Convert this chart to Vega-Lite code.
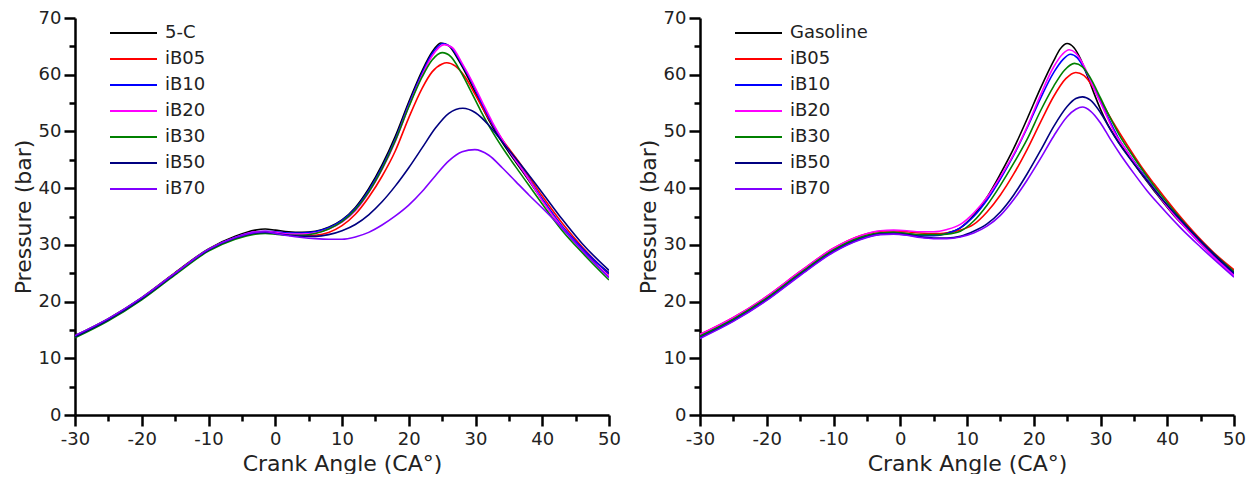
{
  "$schema": "https://vega.github.io/schema/vega-lite/v6.json",
  "padding": {"left": 12, "top": 9, "right": 3, "bottom": 0},
  "spacing": 16,
  "datasets": {
    "left": [
      {"s":"5-C","ca":-30,"p":14.0},{"s":"5-C","ca":-25,"p":17.0},{"s":"5-C","ca":-20,"p":20.7},{"s":"5-C","ca":-15,"p":25.1},{"s":"5-C","ca":-10,"p":29.3},{"s":"5-C","ca":-6,"p":31.5},{"s":"5-C","ca":-3,"p":32.6},{"s":"5-C","ca":-1.5,"p":32.8},{"s":"5-C","ca":0,"p":32.6},{"s":"5-C","ca":2,"p":32.3},{"s":"5-C","ca":4,"p":32.2},{"s":"5-C","ca":6,"p":32.4},{"s":"5-C","ca":8,"p":33.1},{"s":"5-C","ca":10,"p":34.4},{"s":"5-C","ca":12,"p":36.6},{"s":"5-C","ca":14,"p":39.9},{"s":"5-C","ca":16,"p":44.1},{"s":"5-C","ca":18,"p":49.2},{"s":"5-C","ca":20,"p":55.2},{"s":"5-C","ca":22,"p":60.7},{"s":"5-C","ca":23.5,"p":64.0},{"s":"5-C","ca":24.8,"p":65.6},{"s":"5-C","ca":26,"p":65.1},{"s":"5-C","ca":27.5,"p":62.5},{"s":"5-C","ca":29,"p":59.2},{"s":"5-C","ca":30.5,"p":55.5},{"s":"5-C","ca":32,"p":52.0},{"s":"5-C","ca":33.5,"p":49.0},{"s":"5-C","ca":35,"p":46.3},{"s":"5-C","ca":37,"p":43.0},{"s":"5-C","ca":40,"p":37.9},{"s":"5-C","ca":43,"p":33.1},{"s":"5-C","ca":46,"p":29.1},{"s":"5-C","ca":50,"p":25.1},

      {"s":"iB05","ca":-30,"p":13.9},{"s":"iB05","ca":-25,"p":16.9},{"s":"iB05","ca":-20,"p":20.6},{"s":"iB05","ca":-15,"p":25.0},{"s":"iB05","ca":-10,"p":29.1},{"s":"iB05","ca":-6,"p":31.2},{"s":"iB05","ca":-3,"p":32.1},{"s":"iB05","ca":-1.5,"p":32.2},{"s":"iB05","ca":0,"p":32.1},{"s":"iB05","ca":2,"p":31.8},{"s":"iB05","ca":4,"p":31.6},{"s":"iB05","ca":6,"p":31.7},{"s":"iB05","ca":8,"p":32.2},{"s":"iB05","ca":10,"p":33.4},{"s":"iB05","ca":12,"p":35.4},{"s":"iB05","ca":14,"p":38.4},{"s":"iB05","ca":16,"p":42.1},{"s":"iB05","ca":18,"p":46.6},{"s":"iB05","ca":20,"p":52.4},{"s":"iB05","ca":22,"p":57.6},{"s":"iB05","ca":23.5,"p":60.5},{"s":"iB05","ca":25,"p":61.9},{"s":"iB05","ca":25.7,"p":62.1},{"s":"iB05","ca":27,"p":61.5},{"s":"iB05","ca":28.5,"p":59.5},{"s":"iB05","ca":30,"p":56.4},{"s":"iB05","ca":32,"p":52.2},{"s":"iB05","ca":34,"p":48.6},{"s":"iB05","ca":37,"p":43.8},{"s":"iB05","ca":40,"p":38.6},{"s":"iB05","ca":43,"p":33.8},{"s":"iB05","ca":46,"p":29.6},{"s":"iB05","ca":50,"p":24.8},

      {"s":"iB10","ca":-30,"p":13.8},{"s":"iB10","ca":-25,"p":16.8},{"s":"iB10","ca":-20,"p":20.5},{"s":"iB10","ca":-15,"p":24.9},{"s":"iB10","ca":-10,"p":29.1},{"s":"iB10","ca":-6,"p":31.3},{"s":"iB10","ca":-3,"p":32.3},{"s":"iB10","ca":-1.5,"p":32.4},{"s":"iB10","ca":0,"p":32.3},{"s":"iB10","ca":2,"p":32.1},{"s":"iB10","ca":4,"p":32.1},{"s":"iB10","ca":6,"p":32.3},{"s":"iB10","ca":8,"p":33.0},{"s":"iB10","ca":10,"p":34.3},{"s":"iB10","ca":12,"p":36.4},{"s":"iB10","ca":14,"p":39.6},{"s":"iB10","ca":16,"p":43.7},{"s":"iB10","ca":18,"p":48.7},{"s":"iB10","ca":20,"p":54.8},{"s":"iB10","ca":22,"p":60.3},{"s":"iB10","ca":23.5,"p":63.7},{"s":"iB10","ca":25.1,"p":65.5},{"s":"iB10","ca":26.3,"p":64.9},{"s":"iB10","ca":27.8,"p":62.2},{"s":"iB10","ca":29.3,"p":59.0},{"s":"iB10","ca":30.8,"p":55.3},{"s":"iB10","ca":32.3,"p":51.8},{"s":"iB10","ca":33.8,"p":48.8},{"s":"iB10","ca":35.3,"p":46.1},{"s":"iB10","ca":37.3,"p":42.8},{"s":"iB10","ca":40,"p":38.1},{"s":"iB10","ca":43,"p":33.3},{"s":"iB10","ca":46,"p":29.4},{"s":"iB10","ca":50,"p":24.9},

      {"s":"iB20","ca":-30,"p":13.9},{"s":"iB20","ca":-25,"p":16.9},{"s":"iB20","ca":-20,"p":20.6},{"s":"iB20","ca":-15,"p":25.0},{"s":"iB20","ca":-10,"p":29.2},{"s":"iB20","ca":-6,"p":31.3},{"s":"iB20","ca":-3,"p":32.3},{"s":"iB20","ca":-1.5,"p":32.4},{"s":"iB20","ca":0,"p":32.2},{"s":"iB20","ca":2,"p":31.9},{"s":"iB20","ca":4,"p":31.9},{"s":"iB20","ca":6,"p":32.1},{"s":"iB20","ca":8,"p":32.8},{"s":"iB20","ca":10,"p":34.0},{"s":"iB20","ca":12,"p":36.0},{"s":"iB20","ca":14,"p":39.2},{"s":"iB20","ca":16,"p":43.3},{"s":"iB20","ca":18,"p":48.3},{"s":"iB20","ca":20,"p":54.4},{"s":"iB20","ca":22,"p":59.9},{"s":"iB20","ca":23.5,"p":63.3},{"s":"iB20","ca":25.3,"p":65.3},{"s":"iB20","ca":26.5,"p":64.8},{"s":"iB20","ca":28,"p":62.0},{"s":"iB20","ca":29.5,"p":58.8},{"s":"iB20","ca":31,"p":55.2},{"s":"iB20","ca":32.5,"p":51.7},{"s":"iB20","ca":34,"p":48.6},{"s":"iB20","ca":35.5,"p":45.8},{"s":"iB20","ca":37.5,"p":42.4},{"s":"iB20","ca":40,"p":37.8},{"s":"iB20","ca":43,"p":33.0},{"s":"iB20","ca":46,"p":29.0},{"s":"iB20","ca":50,"p":24.4},

      {"s":"iB30","ca":-30,"p":13.6},{"s":"iB30","ca":-25,"p":16.6},{"s":"iB30","ca":-20,"p":20.3},{"s":"iB30","ca":-15,"p":24.7},{"s":"iB30","ca":-10,"p":28.9},{"s":"iB30","ca":-6,"p":31.0},{"s":"iB30","ca":-3,"p":31.9},{"s":"iB30","ca":-1.5,"p":32.0},{"s":"iB30","ca":0,"p":31.9},{"s":"iB30","ca":2,"p":31.7},{"s":"iB30","ca":4,"p":31.7},{"s":"iB30","ca":6,"p":32.0},{"s":"iB30","ca":8,"p":32.8},{"s":"iB30","ca":10,"p":34.1},{"s":"iB30","ca":12,"p":36.2},{"s":"iB30","ca":14,"p":39.3},{"s":"iB30","ca":16,"p":43.4},{"s":"iB30","ca":18,"p":48.4},{"s":"iB30","ca":20,"p":54.3},{"s":"iB30","ca":22,"p":59.6},{"s":"iB30","ca":23.5,"p":62.6},{"s":"iB30","ca":25,"p":63.9},{"s":"iB30","ca":26.3,"p":63.2},{"s":"iB30","ca":27.8,"p":60.5},{"s":"iB30","ca":29.3,"p":57.1},{"s":"iB30","ca":30.8,"p":53.6},{"s":"iB30","ca":32.3,"p":50.4},{"s":"iB30","ca":34,"p":47.2},{"s":"iB30","ca":36,"p":43.8},{"s":"iB30","ca":38,"p":40.5},{"s":"iB30","ca":40,"p":37.2},{"s":"iB30","ca":43,"p":32.5},{"s":"iB30","ca":46,"p":28.6},{"s":"iB30","ca":50,"p":23.8},

      {"s":"iB50","ca":-30,"p":13.8},{"s":"iB50","ca":-25,"p":16.8},{"s":"iB50","ca":-20,"p":20.5},{"s":"iB50","ca":-15,"p":24.9},{"s":"iB50","ca":-10,"p":29.1},{"s":"iB50","ca":-6,"p":31.2},{"s":"iB50","ca":-3,"p":32.1},{"s":"iB50","ca":-1.5,"p":32.2},{"s":"iB50","ca":0,"p":32.0},{"s":"iB50","ca":2,"p":31.7},{"s":"iB50","ca":4,"p":31.5},{"s":"iB50","ca":6,"p":31.5},{"s":"iB50","ca":8,"p":31.8},{"s":"iB50","ca":10,"p":32.5},{"s":"iB50","ca":12,"p":33.6},{"s":"iB50","ca":14,"p":35.3},{"s":"iB50","ca":16,"p":37.6},{"s":"iB50","ca":18,"p":40.4},{"s":"iB50","ca":20,"p":43.6},{"s":"iB50","ca":22,"p":47.1},{"s":"iB50","ca":24,"p":50.6},{"s":"iB50","ca":26,"p":53.2},{"s":"iB50","ca":28.1,"p":54.1},{"s":"iB50","ca":30,"p":53.3},{"s":"iB50","ca":32,"p":51.1},{"s":"iB50","ca":34,"p":48.2},{"s":"iB50","ca":37,"p":43.8},{"s":"iB50","ca":40,"p":39.2},{"s":"iB50","ca":43,"p":34.5},{"s":"iB50","ca":46,"p":30.2},{"s":"iB50","ca":50,"p":25.5},

      {"s":"iB70","ca":-30,"p":14.0},{"s":"iB70","ca":-25,"p":17.0},{"s":"iB70","ca":-20,"p":20.7},{"s":"iB70","ca":-15,"p":25.0},{"s":"iB70","ca":-10,"p":29.2},{"s":"iB70","ca":-6,"p":31.3},{"s":"iB70","ca":-3,"p":32.2},{"s":"iB70","ca":-1.5,"p":32.3},{"s":"iB70","ca":0,"p":32.0},{"s":"iB70","ca":2,"p":31.6},{"s":"iB70","ca":4,"p":31.3},{"s":"iB70","ca":6,"p":31.1},{"s":"iB70","ca":8,"p":31.0},{"s":"iB70","ca":10,"p":31.0},{"s":"iB70","ca":12,"p":31.4},{"s":"iB70","ca":14,"p":32.2},{"s":"iB70","ca":16,"p":33.5},{"s":"iB70","ca":18,"p":35.1},{"s":"iB70","ca":20,"p":37.0},{"s":"iB70","ca":22,"p":39.4},{"s":"iB70","ca":24,"p":42.2},{"s":"iB70","ca":26,"p":44.8},{"s":"iB70","ca":28,"p":46.4},{"s":"iB70","ca":29.9,"p":46.8},{"s":"iB70","ca":32,"p":45.8},{"s":"iB70","ca":34,"p":43.6},{"s":"iB70","ca":36,"p":41.2},{"s":"iB70","ca":38,"p":38.8},{"s":"iB70","ca":40,"p":36.5},{"s":"iB70","ca":43,"p":32.9},{"s":"iB70","ca":46,"p":29.0},{"s":"iB70","ca":50,"p":24.2}
    ],
    "right": [
      {"s":"Gasoline","ca":-30,"p":14.0},{"s":"Gasoline","ca":-25,"p":17.0},{"s":"Gasoline","ca":-20,"p":20.7},{"s":"Gasoline","ca":-15,"p":25.0},{"s":"Gasoline","ca":-10,"p":29.1},{"s":"Gasoline","ca":-6,"p":31.3},{"s":"Gasoline","ca":-3,"p":32.1},{"s":"Gasoline","ca":-1,"p":32.2},{"s":"Gasoline","ca":1,"p":32.0},{"s":"Gasoline","ca":3,"p":31.7},{"s":"Gasoline","ca":5,"p":31.7},{"s":"Gasoline","ca":7,"p":32.1},{"s":"Gasoline","ca":9,"p":33.0},{"s":"Gasoline","ca":11,"p":35.2},{"s":"Gasoline","ca":13,"p":38.4},{"s":"Gasoline","ca":15,"p":42.5},{"s":"Gasoline","ca":17,"p":47.0},{"s":"Gasoline","ca":19,"p":52.2},{"s":"Gasoline","ca":21,"p":57.6},{"s":"Gasoline","ca":23,"p":62.5},{"s":"Gasoline","ca":24,"p":64.6},{"s":"Gasoline","ca":25,"p":65.5},{"s":"Gasoline","ca":26,"p":64.8},{"s":"Gasoline","ca":27,"p":62.8},{"s":"Gasoline","ca":28,"p":59.9},{"s":"Gasoline","ca":29,"p":56.8},{"s":"Gasoline","ca":30,"p":53.9},{"s":"Gasoline","ca":31,"p":51.4},{"s":"Gasoline","ca":32.6,"p":48.3},{"s":"Gasoline","ca":34,"p":46.0},{"s":"Gasoline","ca":36,"p":42.7},{"s":"Gasoline","ca":38,"p":39.6},{"s":"Gasoline","ca":41,"p":35.2},{"s":"Gasoline","ca":44,"p":31.6},{"s":"Gasoline","ca":47,"p":28.2},{"s":"Gasoline","ca":50,"p":25.1},

      {"s":"iB05","ca":-30,"p":14.2},{"s":"iB05","ca":-25,"p":17.2},{"s":"iB05","ca":-20,"p":20.9},{"s":"iB05","ca":-15,"p":25.3},{"s":"iB05","ca":-10,"p":29.4},{"s":"iB05","ca":-6,"p":31.6},{"s":"iB05","ca":-3,"p":32.4},{"s":"iB05","ca":-1,"p":32.5},{"s":"iB05","ca":1,"p":32.3},{"s":"iB05","ca":3,"p":32.1},{"s":"iB05","ca":5,"p":32.0},{"s":"iB05","ca":7,"p":32.1},{"s":"iB05","ca":9,"p":32.6},{"s":"iB05","ca":11,"p":33.6},{"s":"iB05","ca":13,"p":35.8},{"s":"iB05","ca":15,"p":38.8},{"s":"iB05","ca":17,"p":42.5},{"s":"iB05","ca":19,"p":46.8},{"s":"iB05","ca":21,"p":51.6},{"s":"iB05","ca":23,"p":56.2},{"s":"iB05","ca":24.8,"p":59.3},{"s":"iB05","ca":26.3,"p":60.4},{"s":"iB05","ca":27.5,"p":59.9},{"s":"iB05","ca":29,"p":57.6},{"s":"iB05","ca":30.5,"p":54.5},{"s":"iB05","ca":32,"p":51.4},{"s":"iB05","ca":34,"p":47.6},{"s":"iB05","ca":36,"p":44.0},{"s":"iB05","ca":38,"p":40.8},{"s":"iB05","ca":41,"p":36.3},{"s":"iB05","ca":44,"p":32.2},{"s":"iB05","ca":47,"p":28.6},{"s":"iB05","ca":50,"p":25.6},

      {"s":"iB10","ca":-30,"p":13.7},{"s":"iB10","ca":-25,"p":16.7},{"s":"iB10","ca":-20,"p":20.4},{"s":"iB10","ca":-15,"p":24.8},{"s":"iB10","ca":-10,"p":28.9},{"s":"iB10","ca":-6,"p":31.1},{"s":"iB10","ca":-3,"p":31.9},{"s":"iB10","ca":-1,"p":32.0},{"s":"iB10","ca":1,"p":31.8},{"s":"iB10","ca":3,"p":31.6},{"s":"iB10","ca":5,"p":31.6},{"s":"iB10","ca":7,"p":32.0},{"s":"iB10","ca":9,"p":33.0},{"s":"iB10","ca":11,"p":35.0},{"s":"iB10","ca":13,"p":37.9},{"s":"iB10","ca":15,"p":41.6},{"s":"iB10","ca":17,"p":45.8},{"s":"iB10","ca":19,"p":50.6},{"s":"iB10","ca":21,"p":55.8},{"s":"iB10","ca":23,"p":60.4},{"s":"iB10","ca":24.4,"p":62.7},{"s":"iB10","ca":25.5,"p":63.6},{"s":"iB10","ca":26.5,"p":63.0},{"s":"iB10","ca":28,"p":60.1},{"s":"iB10","ca":29.5,"p":56.5},{"s":"iB10","ca":31,"p":52.8},{"s":"iB10","ca":32.6,"p":49.0},{"s":"iB10","ca":34.5,"p":45.6},{"s":"iB10","ca":36.5,"p":42.3},{"s":"iB10","ca":38.5,"p":39.2},{"s":"iB10","ca":41,"p":35.4},{"s":"iB10","ca":44,"p":31.4},{"s":"iB10","ca":47,"p":27.9},{"s":"iB10","ca":50,"p":24.8},

      {"s":"iB20","ca":-30,"p":14.2},{"s":"iB20","ca":-25,"p":17.2},{"s":"iB20","ca":-20,"p":20.9},{"s":"iB20","ca":-15,"p":25.3},{"s":"iB20","ca":-10,"p":29.4},{"s":"iB20","ca":-6,"p":31.6},{"s":"iB20","ca":-3,"p":32.5},{"s":"iB20","ca":-1,"p":32.6},{"s":"iB20","ca":1,"p":32.5},{"s":"iB20","ca":3,"p":32.3},{"s":"iB20","ca":5,"p":32.3},{"s":"iB20","ca":7,"p":32.7},{"s":"iB20","ca":9,"p":33.6},{"s":"iB20","ca":11,"p":35.6},{"s":"iB20","ca":13,"p":38.4},{"s":"iB20","ca":15,"p":42.0},{"s":"iB20","ca":17,"p":46.0},{"s":"iB20","ca":19,"p":50.8},{"s":"iB20","ca":21,"p":56.4},{"s":"iB20","ca":23,"p":61.4},{"s":"iB20","ca":24.3,"p":63.6},{"s":"iB20","ca":25.3,"p":64.4},{"s":"iB20","ca":26.3,"p":63.8},{"s":"iB20","ca":27.5,"p":61.6},{"s":"iB20","ca":29,"p":57.6},{"s":"iB20","ca":30.5,"p":53.8},{"s":"iB20","ca":32,"p":50.0},{"s":"iB20","ca":34,"p":46.4},{"s":"iB20","ca":36,"p":42.9},{"s":"iB20","ca":38,"p":39.8},{"s":"iB20","ca":41,"p":35.3},{"s":"iB20","ca":44,"p":31.4},{"s":"iB20","ca":47,"p":27.8},{"s":"iB20","ca":50,"p":24.6},

      {"s":"iB30","ca":-30,"p":13.9},{"s":"iB30","ca":-25,"p":16.9},{"s":"iB30","ca":-20,"p":20.6},{"s":"iB30","ca":-15,"p":25.0},{"s":"iB30","ca":-10,"p":29.1},{"s":"iB30","ca":-6,"p":31.3},{"s":"iB30","ca":-3,"p":32.1},{"s":"iB30","ca":-1,"p":32.2},{"s":"iB30","ca":1,"p":32.0},{"s":"iB30","ca":3,"p":31.8},{"s":"iB30","ca":5,"p":31.8},{"s":"iB30","ca":7,"p":31.9},{"s":"iB30","ca":9,"p":32.4},{"s":"iB30","ca":11,"p":34.2},{"s":"iB30","ca":13,"p":37.0},{"s":"iB30","ca":15,"p":40.5},{"s":"iB30","ca":17,"p":44.4},{"s":"iB30","ca":19,"p":48.6},{"s":"iB30","ca":21,"p":53.6},{"s":"iB30","ca":23,"p":58.0},{"s":"iB30","ca":24.6,"p":60.8},{"s":"iB30","ca":26.1,"p":62.0},{"s":"iB30","ca":27.3,"p":61.4},{"s":"iB30","ca":28.5,"p":59.4},{"s":"iB30","ca":30,"p":55.9},{"s":"iB30","ca":31.5,"p":52.3},{"s":"iB30","ca":33,"p":49.0},{"s":"iB30","ca":35,"p":45.4},{"s":"iB30","ca":37,"p":42.0},{"s":"iB30","ca":39,"p":38.9},{"s":"iB30","ca":42,"p":34.6},{"s":"iB30","ca":45,"p":30.7},{"s":"iB30","ca":50,"p":25.3},

      {"s":"iB50","ca":-30,"p":13.6},{"s":"iB50","ca":-25,"p":16.6},{"s":"iB50","ca":-20,"p":20.3},{"s":"iB50","ca":-15,"p":24.7},{"s":"iB50","ca":-10,"p":28.8},{"s":"iB50","ca":-6,"p":31.0},{"s":"iB50","ca":-3,"p":31.9},{"s":"iB50","ca":-1,"p":32.0},{"s":"iB50","ca":1,"p":31.8},{"s":"iB50","ca":3,"p":31.4},{"s":"iB50","ca":5,"p":31.2},{"s":"iB50","ca":7,"p":31.2},{"s":"iB50","ca":9,"p":31.5},{"s":"iB50","ca":11,"p":32.4},{"s":"iB50","ca":13,"p":33.7},{"s":"iB50","ca":15,"p":35.8},{"s":"iB50","ca":17,"p":38.8},{"s":"iB50","ca":19,"p":42.5},{"s":"iB50","ca":21,"p":46.6},{"s":"iB50","ca":23,"p":50.9},{"s":"iB50","ca":25,"p":54.4},{"s":"iB50","ca":26.3,"p":55.8},{"s":"iB50","ca":27.3,"p":56.1},{"s":"iB50","ca":28.5,"p":55.5},{"s":"iB50","ca":30,"p":53.3},{"s":"iB50","ca":31.5,"p":50.3},{"s":"iB50","ca":33,"p":47.5},{"s":"iB50","ca":35,"p":44.3},{"s":"iB50","ca":37,"p":41.3},{"s":"iB50","ca":39,"p":38.4},{"s":"iB50","ca":42,"p":34.4},{"s":"iB50","ca":45,"p":30.7},{"s":"iB50","ca":50,"p":25.0},

      {"s":"iB70","ca":-30,"p":13.5},{"s":"iB70","ca":-25,"p":16.5},{"s":"iB70","ca":-20,"p":20.2},{"s":"iB70","ca":-15,"p":24.6},{"s":"iB70","ca":-10,"p":28.7},{"s":"iB70","ca":-6,"p":30.9},{"s":"iB70","ca":-3,"p":31.8},{"s":"iB70","ca":-1,"p":31.9},{"s":"iB70","ca":1,"p":31.7},{"s":"iB70","ca":3,"p":31.3},{"s":"iB70","ca":5,"p":31.1},{"s":"iB70","ca":7,"p":31.1},{"s":"iB70","ca":9,"p":31.4},{"s":"iB70","ca":11,"p":32.1},{"s":"iB70","ca":13,"p":33.3},{"s":"iB70","ca":15,"p":35.2},{"s":"iB70","ca":17,"p":38.0},{"s":"iB70","ca":19,"p":41.4},{"s":"iB70","ca":21,"p":45.2},{"s":"iB70","ca":23,"p":49.2},{"s":"iB70","ca":25,"p":52.6},{"s":"iB70","ca":26.3,"p":53.9},{"s":"iB70","ca":27.3,"p":54.3},{"s":"iB70","ca":28.5,"p":53.6},{"s":"iB70","ca":30,"p":51.5},{"s":"iB70","ca":31.5,"p":48.6},{"s":"iB70","ca":33,"p":45.9},{"s":"iB70","ca":35,"p":42.6},{"s":"iB70","ca":37,"p":39.5},{"s":"iB70","ca":39,"p":36.8},{"s":"iB70","ca":42,"p":33.0},{"s":"iB70","ca":45,"p":29.6},{"s":"iB70","ca":50,"p":24.3}
    ]
  },
  "hconcat": [
    {
      "width": 534,
      "height": 397,
      "data": {"name": "left"},
      "mark": {"type": "line", "interpolate": "monotone", "strokeWidth": 1.6, "clip": true},
      "encoding": {
        "x": {"field": "ca", "type": "quantitative", "scale": {"domain": [-30, 50], "nice": false, "zero": false},
          "axis": {"title": "Crank Angle (CA°)", "values": [-30,-25,-20,-15,-10,-5,0,5,10,15,20,25,30,35,40,45,50], "labelExpr": "datum.value % 10 === 0 ? '' + datum.value : ''", "tickSize": {"condition": {"test": "datum.value % 10 === 0", "value": 11}, "value": 6}, "labelPadding": 4, "titlePadding": 5, "labelFlush": false}},
        "y": {"field": "p", "type": "quantitative", "scale": {"domain": [0, 70], "nice": false},
          "axis": {"title": "Pressure (bar)", "values": [0,5,10,15,20,25,30,35,40,45,50,55,60,65,70], "labelExpr": "datum.value % 10 === 0 ? '' + datum.value : ''", "tickSize": {"condition": {"test": "datum.value % 10 === 0", "value": 11}, "value": 6}, "labelPadding": 3, "titlePadding": 3, "labelFlush": false}},
        "color": {"field": "s", "type": "nominal",
          "scale": {"domain": ["5-C","iB05","iB10","iB20","iB30","iB50","iB70"], "range": ["#000000","#ff0000","#0000ff","#ff00ff","#008000","#000080","#8000ff"]},
          "legend": {"orient": "none", "legendX": 34, "legendY": 6, "title": null}}
      }
    },
    {
      "width": 534,
      "height": 397,
      "data": {"name": "right"},
      "mark": {"type": "line", "interpolate": "monotone", "strokeWidth": 1.6, "clip": true},
      "encoding": {
        "x": {"field": "ca", "type": "quantitative", "scale": {"domain": [-30, 50], "nice": false, "zero": false},
          "axis": {"title": "Crank Angle (CA°)", "values": [-30,-25,-20,-15,-10,-5,0,5,10,15,20,25,30,35,40,45,50], "labelExpr": "datum.value % 10 === 0 ? '' + datum.value : ''", "tickSize": {"condition": {"test": "datum.value % 10 === 0", "value": 11}, "value": 6}, "labelPadding": 4, "titlePadding": 5, "labelFlush": false}},
        "y": {"field": "p", "type": "quantitative", "scale": {"domain": [0, 70], "nice": false},
          "axis": {"title": "Pressure (bar)", "values": [0,5,10,15,20,25,30,35,40,45,50,55,60,65,70], "labelExpr": "datum.value % 10 === 0 ? '' + datum.value : ''", "tickSize": {"condition": {"test": "datum.value % 10 === 0", "value": 11}, "value": 6}, "labelPadding": 3, "titlePadding": 3, "labelFlush": false}},
        "color": {"field": "s", "type": "nominal",
          "scale": {"domain": ["Gasoline","iB05","iB10","iB20","iB30","iB50","iB70"], "range": ["#000000","#ff0000","#0000ff","#ff00ff","#008000","#000080","#8000ff"]},
          "legend": {"orient": "none", "legendX": 34, "legendY": 6, "title": null}}
      }
    }
  ],
  "resolve": {"scale": {"color": "independent", "x": "independent", "y": "independent"}, "legend": {"color": "independent"}},
  "config": {
    "font": "DejaVu Sans",
    "view": {"stroke": null},
    "axis": {"domainColor": "#000000", "domainWidth": 2.5, "tickColor": "#000000", "tickWidth": 2.5, "grid": false,
      "labelFont": "DejaVu Sans", "labelFontSize": 18, "labelColor": "#222222",
      "titleFont": "DejaVu Sans", "titleFontSize": 22, "titleFontWeight": "normal", "titleColor": "#222222", "labelOverlap": false},
    "legend": {"symbolType": "stroke", "symbolSize": 2209, "symbolStrokeWidth": 1.8, "labelFont": "DejaVu Sans", "labelFontSize": 18, "labelColor": "#222222", "clipHeight": 18, "rowPadding": 8, "labelOffset": 7, "padding": 0}
  }
}
